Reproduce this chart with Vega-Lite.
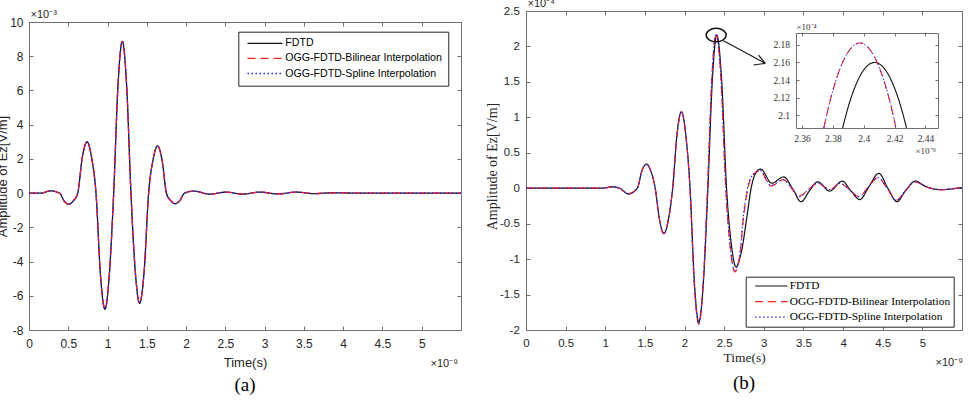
{
  "$schema": "https://vega.github.io/schema/vega-lite/v6.json",
  "autosize": {"type": "none"},
  "padding": {"left": 29, "top": 11, "right": 941, "bottom": 391},
  "background": "white",
  "bounds": "flush",
  "spacing": 65,
  "datasets": {
    "left": [
      {"t":0,"v":0},{"t":0.15,"v":0},{"t":0.27,"v":0.13},{"t":0.39,"v":0},{"t":0.447,"v":-0.46},{"t":0.505,"v":-0.65},{"t":0.563,"v":-0.46},{"t":0.62,"v":0},{"t":0.679,"v":2.1},{"t":0.738,"v":3.0},{"t":0.796,"v":2.1},{"t":0.853,"v":0},{"t":0.91,"v":-4.8},{"t":0.967,"v":-6.79},{"t":1.022,"v":-4.8},{"t":1.078,"v":0},{"t":1.133,"v":6.3},{"t":1.188,"v":8.87},{"t":1.243,"v":6.3},{"t":1.298,"v":0},{"t":1.353,"v":-4.57},{"t":1.408,"v":-6.44},{"t":1.466,"v":-4.57},{"t":1.523,"v":0},{"t":1.58,"v":1.96},{"t":1.637,"v":2.76},{"t":1.693,"v":1.96},{"t":1.75,"v":0},{"t":1.805,"v":-0.44},{"t":1.86,"v":-0.62},{"t":1.92,"v":-0.44},{"t":1.98,"v":0},{"t":2.1,"v":0.12},{"t":2.3,"v":-0.06},{"t":2.51,"v":0.06},{"t":2.72,"v":-0.06},{"t":2.94,"v":0.06},{"t":3.17,"v":-0.05},{"t":3.4,"v":0.06},{"t":3.63,"v":-0.03},{"t":3.87,"v":0.02},{"t":4.2,"v":0},{"t":5.5,"v":0}
    ],
    "right_fdtd": [
      {"t":0,"v":0},{"t":0.9,"v":0},{"t":1.0,"v":0.005},{"t":1.08,"v":0.02},{"t":1.18,"v":0},{"t":1.29,"v":-0.08},{"t":1.405,"v":0},{"t":1.46,"v":0.24},{"t":1.52,"v":0.34},{"t":1.575,"v":0.24},{"t":1.63,"v":0},{"t":1.685,"v":-0.45},{"t":1.74,"v":-0.64},{"t":1.795,"v":-0.45},{"t":1.85,"v":0},{"t":1.905,"v":0.76},{"t":1.96,"v":1.08},{"t":2.015,"v":0.76},{"t":2.07,"v":0},{"t":2.125,"v":-1.34},{"t":2.18,"v":-1.89},{"t":2.237,"v":-1.34},{"t":2.295,"v":0},{"t":2.351,"v":1.53},{"t":2.407,"v":2.16},{"t":2.468,"v":1.53},{"t":2.53,"v":0},{"t":2.59,"v":-0.79},{"t":2.65,"v":-1.11},{"t":2.72,"v":-0.88},{"t":2.787,"v":-0.4},{"t":2.84,"v":0},{"t":2.9,"v":0.22},{"t":2.96,"v":0.27},{"t":3.1,"v":0.07},{"t":3.25,"v":0.16},{"t":3.36,"v":0},{"t":3.47,"v":-0.19},{"t":3.58,"v":-0.03},{"t":3.68,"v":0.09},{"t":3.83,"v":-0.04},{"t":3.99,"v":0.1},{"t":4.1,"v":-0.04},{"t":4.21,"v":-0.16},{"t":4.33,"v":0.03},{"t":4.45,"v":0.21},{"t":4.565,"v":0},{"t":4.68,"v":-0.19},{"t":4.79,"v":-0.03},{"t":4.91,"v":0.1},{"t":5.05,"v":0.02},{"t":5.23,"v":-0.02},{"t":5.5,"v":0.01}
    ],
    "right_bil": [
      {"t":0,"v":0},{"t":0.9,"v":0},{"t":1.0,"v":0.005},{"t":1.08,"v":0.02},{"t":1.18,"v":0},{"t":1.29,"v":-0.08},{"t":1.405,"v":0},{"t":1.46,"v":0.24},{"t":1.52,"v":0.34},{"t":1.575,"v":0.24},{"t":1.63,"v":0},{"t":1.685,"v":-0.45},{"t":1.74,"v":-0.64},{"t":1.795,"v":-0.45},{"t":1.85,"v":0},{"t":1.905,"v":0.76},{"t":1.96,"v":1.08},{"t":2.015,"v":0.76},{"t":2.068,"v":0},{"t":2.123,"v":-1.36},{"t":2.178,"v":-1.92},{"t":2.234,"v":-1.36},{"t":2.29,"v":0},{"t":2.344,"v":1.55},{"t":2.3975,"v":2.18},{"t":2.459,"v":1.55},{"t":2.52,"v":0},{"t":2.577,"v":-0.84},{"t":2.635,"v":-1.18},{"t":2.7,"v":-0.93},{"t":2.745,"v":-0.4},{"t":2.8,"v":0},{"t":2.87,"v":0.2},{"t":2.95,"v":0.25},{"t":3.09,"v":0.03},{"t":3.25,"v":0.12},{"t":3.35,"v":0},{"t":3.45,"v":-0.11},{"t":3.57,"v":-0.01},{"t":3.68,"v":0.07},{"t":3.84,"v":-0.02},{"t":3.96,"v":0.07},{"t":4.08,"v":-0.02},{"t":4.2,"v":-0.12},{"t":4.32,"v":0.02},{"t":4.44,"v":0.15},{"t":4.555,"v":0},{"t":4.67,"v":-0.17},{"t":4.79,"v":-0.03},{"t":4.91,"v":0.09},{"t":5.05,"v":0.02},{"t":5.23,"v":-0.02},{"t":5.5,"v":0.01}
    ],
    "right_spl": [
      {"t":0,"v":0},{"t":0.9,"v":0},{"t":1.0,"v":0.005},{"t":1.08,"v":0.02},{"t":1.18,"v":0},{"t":1.29,"v":-0.08},{"t":1.405,"v":0},{"t":1.46,"v":0.24},{"t":1.52,"v":0.34},{"t":1.575,"v":0.24},{"t":1.63,"v":0},{"t":1.685,"v":-0.45},{"t":1.74,"v":-0.64},{"t":1.795,"v":-0.45},{"t":1.85,"v":0},{"t":1.905,"v":0.76},{"t":1.96,"v":1.08},{"t":2.015,"v":0.76},{"t":2.068,"v":0},{"t":2.123,"v":-1.36},{"t":2.178,"v":-1.91},{"t":2.234,"v":-1.36},{"t":2.29,"v":0},{"t":2.344,"v":1.55},{"t":2.3975,"v":2.18},{"t":2.459,"v":1.55},{"t":2.52,"v":0},{"t":2.577,"v":-0.83},{"t":2.635,"v":-1.16},{"t":2.7,"v":-0.9},{"t":2.745,"v":-0.36},{"t":2.8,"v":0.03},{"t":2.87,"v":0.2},{"t":2.95,"v":0.25},{"t":3.09,"v":0.04},{"t":3.25,"v":0.12},{"t":3.35,"v":0},{"t":3.45,"v":-0.12},{"t":3.57,"v":-0.01},{"t":3.68,"v":0.07},{"t":3.84,"v":-0.02},{"t":3.96,"v":0.07},{"t":4.08,"v":-0.02},{"t":4.2,"v":-0.12},{"t":4.32,"v":0.02},{"t":4.44,"v":0.15},{"t":4.555,"v":0},{"t":4.67,"v":-0.17},{"t":4.79,"v":-0.03},{"t":4.91,"v":0.09},{"t":5.05,"v":0.02},{"t":5.23,"v":-0.02},{"t":5.5,"v":0.01}
    ],
    "inset_fdtd": [
      {"t":2.3863,"v":2.0859},{"t":2.39,"v":2.1101},{"t":2.395,"v":2.135},{"t":2.4,"v":2.1514},{"t":2.407,"v":2.1598},{"t":2.414,"v":2.1514},{"t":2.419,"v":2.135},{"t":2.424,"v":2.1101},{"t":2.4277,"v":2.0859}
    ],
    "inset_bil": [
      {"t":2.3741,"v":2.0859},{"t":2.378,"v":2.1153},{"t":2.383,"v":2.145},{"t":2.388,"v":2.166},{"t":2.3925,"v":2.1774},{"t":2.3975,"v":2.1818},{"t":2.4025,"v":2.1774},{"t":2.407,"v":2.166},{"t":2.412,"v":2.145},{"t":2.417,"v":2.1153},{"t":2.4209,"v":2.0859}
    ],
    "inset_spl": [
      {"t":2.3741,"v":2.0859},{"t":2.378,"v":2.1153},{"t":2.383,"v":2.145},{"t":2.388,"v":2.166},{"t":2.3925,"v":2.1774},{"t":2.3975,"v":2.1818},{"t":2.4025,"v":2.1774},{"t":2.407,"v":2.166},{"t":2.412,"v":2.145},{"t":2.417,"v":2.1153},{"t":2.4209,"v":2.0859}
    ],
    "arrow": [
      {"t":2.491,"v":2.081,"t2":3.018,"v2":1.762},
      {"t":2.87,"v":1.738,"t2":3.018,"v2":1.762},
      {"t":2.933,"v":1.879,"t2":3.018,"v2":1.762}
    ],
    "circle": [{"t":2.399,"v":2.161}]
  },
  "hconcat": [
    {
      "width": 432, "height": 319,
      "view": {"stroke": null},
      "data": {"name": "left"},
      "title": {"text": "(a)", "orient": "bottom", "anchor": "middle", "frame": "group", "offset": 7, "font": "Liberation Serif", "fontSize": 19, "fontWeight": "normal", "color": "#000000"},
      "layer": [
        {
          "mark": {"type": "line", "interpolate": "monotone", "strokeWidth": 1.3, "clip": true},
          "encoding": {
            "x": {"field": "t", "type": "quantitative", "scale": {"domain": [0, 5.5], "nice": false, "zero": false},
              "axis": {"orient": "bottom", "domain": true, "values": [0,0.5,1,1.5,2,2.5,3,3.5,4,4.5,5], "labelExpr": "replace(format(datum.value, '~g'), '−', '-')", "labelFont": "Liberation Sans", "labelFontSize": 12, "labelBaseline": "middle", "labelPadding": 17.3, "tickSize": -4, "title": "Time(s)", "titleFont": "Liberation Sans", "titleFontSize": 13, "titleX": 216, "titleY": 32, "titleAlign": "center", "titleBaseline": "middle", "titleAngle": 0}},
            "y": {"field": "v", "type": "quantitative", "scale": {"domain": [-8, 10], "range": [319, 11], "nice": false, "zero": false},
              "axis": {"orient": "left", "domain": true, "values": [-8,-6,-4,-2,0,2,4,6,8,10], "labelExpr": "replace(format(datum.value, '~g'), '−', '-')", "labelFont": "Liberation Sans", "labelFontSize": 12, "labelPadding": 10, "tickSize": -4, "title": "Amplitude of Ez[V/m]", "titleFont": "Liberation Sans", "titleFontSize": 13, "titleAngle": 270, "titleX": -23, "titleY": 165, "titleAlign": "center", "titleBaseline": "alphabetic"}},
            "color": {"datum": "FDTD", "type": "nominal", "scale": {"domain": ["FDTD", "OGG-FDTD-Bilinear Interpolation", "OGG-FDTD-Spline Interpolation"], "range": ["#111111", "#ff1f1f", "#1f1fff"]},
              "legend": {"title": null, "orient": "none", "legendX": 209.3, "legendY": 20.7, "direction": "vertical", "symbolType": "M-5,0L5,0", "symbolSize": 49, "symbolOffset": 15.1, "symbolStrokeWidth": 1.3, "labelFont": "Liberation Sans", "labelFontSize": 10.6, "labelColor": "#000000", "labelOffset": 15, "padding": 6.3, "rowPadding": 4.1, "strokeColor": "#262626", "fillColor": "#ffffff", "cornerRadius": 0, "labelLimit": 0}},
            "strokeDash": {"datum": "FDTD", "type": "nominal", "scale": {"domain": ["FDTD", "OGG-FDTD-Bilinear Interpolation", "OGG-FDTD-Spline Interpolation"], "range": [[1,0],[8,5],[1.5,2.5]]}}
          }
        },
        {
          "mark": {"type": "line", "interpolate": "monotone", "strokeWidth": 1.3, "clip": true},
          "encoding": {
            "x": {"field": "t", "type": "quantitative", "scale": {"domain": [0, 5.5], "nice": false, "zero": false},
              "axis": {"orient": "top", "offset": -11, "domain": true, "values": [0,0.5,1,1.5,2,2.5,3,3.5,4,4.5,5], "labels": false, "tickSize": -4, "title": "×10⁻³", "titleFont": "Liberation Sans", "titleFontSize": 11, "titleX": 1, "titleY": -8, "titleAlign": "left", "titleBaseline": "middle", "titleAngle": 0}},
            "y": {"field": "v", "type": "quantitative", "scale": {"domain": [-8, 10], "range": [319, 11], "nice": false, "zero": false},
              "axis": {"orient": "right", "domain": true, "values": [-8,-6,-4,-2,0,2,4,6,8,10], "labels": false, "tickSize": -4, "title": "×10⁻⁹", "titleFont": "Liberation Sans", "titleFontSize": 11, "titleX": -31, "titleY": 352, "titleAlign": "left", "titleBaseline": "middle", "titleAngle": 0}},
            "color": {"datum": "OGG-FDTD-Bilinear Interpolation", "type": "nominal", "scale": {"domain": ["FDTD", "OGG-FDTD-Bilinear Interpolation", "OGG-FDTD-Spline Interpolation"], "range": ["#111111", "#ff1f1f", "#1f1fff"]}},
            "strokeDash": {"datum": "OGG-FDTD-Bilinear Interpolation", "type": "nominal", "scale": {"domain": ["FDTD", "OGG-FDTD-Bilinear Interpolation", "OGG-FDTD-Spline Interpolation"], "range": [[1,0],[8,5],[1.5,2.5]]}}
          }
        },
        {
          "mark": {"type": "line", "interpolate": "monotone", "strokeWidth": 1.1, "clip": true},
          "encoding": {
            "x": {"field": "t", "type": "quantitative", "scale": {"domain": [0, 5.5], "nice": false, "zero": false}, "axis": null},
            "y": {"field": "v", "type": "quantitative", "scale": {"domain": [-8, 10], "range": [319, 11], "nice": false, "zero": false}, "axis": null},
            "color": {"datum": "OGG-FDTD-Spline Interpolation", "type": "nominal", "scale": {"domain": ["FDTD", "OGG-FDTD-Bilinear Interpolation", "OGG-FDTD-Spline Interpolation"], "range": ["#111111", "#ff1f1f", "#1f1fff"]}},
            "strokeDash": {"datum": "OGG-FDTD-Spline Interpolation", "type": "nominal", "scale": {"domain": ["FDTD", "OGG-FDTD-Bilinear Interpolation", "OGG-FDTD-Spline Interpolation"], "range": [[1,0],[8,5],[1.5,2.5]]}}
          }
        }
      ],
      "resolve": {"axis": {"x": "independent", "y": "independent"}}
    },
    {
      "width": 436, "height": 319,
      "title": {"text": "(b)", "orient": "bottom", "anchor": "middle", "frame": "group", "offset": 7, "font": "Liberation Serif", "fontSize": 19, "fontWeight": "normal", "color": "#000000"},
      "layer": [
        {
          "data": {"name": "right_fdtd"},
          "mark": {"type": "line", "interpolate": "monotone", "strokeWidth": 1.2, "clip": true},
          "encoding": {
            "x": {"field": "t", "type": "quantitative", "scale": {"domain": [0, 5.5], "nice": false, "zero": false},
              "axis": {"orient": "bottom", "values": [0,0.5,1,1.5,2,2.5,3,3.5,4,4.5,5], "labelExpr": "replace(format(datum.value, '~g'), '−', '-')", "labelFont": "Liberation Sans", "labelFontSize": 11.5, "labelBaseline": "middle", "labelPadding": 17.3, "tickSize": -4, "title": "Time(s)", "titleFont": "Liberation Serif", "titleFontSize": 13.5, "titleX": 218, "titleY": 27.7, "titleAlign": "center", "titleBaseline": "middle", "titleAngle": 0}},
            "y": {"field": "v", "type": "quantitative", "scale": {"domain": [-2, 2.5], "nice": false, "zero": false},
              "axis": {"orient": "left", "values": [-2,-1.5,-1,-0.5,0,0.5,1,1.5,2,2.5], "labelExpr": "replace(format(datum.value, '~g'), '−', '-')", "labelFont": "Liberation Sans", "labelFontSize": 11.5, "labelPadding": 10.7, "tickSize": -4, "title": "Amplitude of Ez[V/m]", "titleFont": "Liberation Serif", "titleFontSize": 14, "titleAngle": 270, "titleX": -30, "titleY": 155, "titleAlign": "center", "titleBaseline": "alphabetic"}},
            "color": {"datum": "FDTD", "type": "nominal", "scale": {"domain": ["FDTD", "OGG-FDTD-Bilinear Interpolation", "OGG-FDTD-Spline Interpolation"], "range": ["#111111", "#ff1f1f", "#1f1fff"]},
              "legend": {"title": null, "orient": "none", "legendX": 219.7, "legendY": 265.7, "direction": "vertical", "symbolType": "M-5,0L5,0", "symbolSize": 41.7, "symbolOffset": 16.3, "symbolStrokeWidth": 1.2, "labelFont": "Liberation Serif", "labelFontSize": 11.4, "labelColor": "#000000", "labelOffset": 12.7, "padding": 3.6, "rowPadding": 2.6, "strokeColor": "#262626", "fillColor": "#ffffff", "cornerRadius": 0, "labelLimit": 0}},
            "strokeDash": {"datum": "FDTD", "type": "nominal", "scale": {"domain": ["FDTD", "OGG-FDTD-Bilinear Interpolation", "OGG-FDTD-Spline Interpolation"], "range": [[1,0],[8,5],[1.5,2.5]]}}
          }
        },
        {
          "data": {"name": "right_bil"},
          "mark": {"type": "line", "interpolate": "monotone", "strokeWidth": 1.2, "clip": true},
          "encoding": {
            "x": {"field": "t", "type": "quantitative", "scale": {"domain": [0, 5.5], "nice": false, "zero": false},
              "axis": {"orient": "top", "values": [0,0.5,1,1.5,2,2.5,3,3.5,4,4.5,5], "labels": false, "tickSize": -4, "title": "×10⁻⁴", "titleFont": "Liberation Sans", "titleFontSize": 11, "titleX": 1, "titleY": -8, "titleAlign": "left", "titleBaseline": "middle", "titleAngle": 0}},
            "y": {"field": "v", "type": "quantitative", "scale": {"domain": [-2, 2.5], "nice": false, "zero": false},
              "axis": {"orient": "right", "values": [-2,-1.5,-1,-0.5,0,0.5,1,1.5,2,2.5], "labels": false, "tickSize": -4, "title": "×10⁻⁹", "titleFont": "Liberation Sans", "titleFontSize": 11, "titleX": -27, "titleY": 351, "titleAlign": "left", "titleBaseline": "middle", "titleAngle": 0}},
            "color": {"datum": "OGG-FDTD-Bilinear Interpolation", "type": "nominal", "scale": {"domain": ["FDTD", "OGG-FDTD-Bilinear Interpolation", "OGG-FDTD-Spline Interpolation"], "range": ["#111111", "#ff1f1f", "#1f1fff"]}},
            "strokeDash": {"datum": "OGG-FDTD-Bilinear Interpolation", "type": "nominal", "scale": {"domain": ["FDTD", "OGG-FDTD-Bilinear Interpolation", "OGG-FDTD-Spline Interpolation"], "range": [[1,0],[8,5],[1.5,2.5]]}}
          }
        },
        {
          "data": {"name": "right_spl"},
          "mark": {"type": "line", "interpolate": "monotone", "strokeWidth": 1.1, "clip": true},
          "encoding": {
            "x": {"field": "t", "type": "quantitative", "scale": {"domain": [0, 5.5], "nice": false, "zero": false}, "axis": null},
            "y": {"field": "v", "type": "quantitative", "scale": {"domain": [-2, 2.5], "nice": false, "zero": false}, "axis": null},
            "color": {"datum": "OGG-FDTD-Spline Interpolation", "type": "nominal", "scale": {"domain": ["FDTD", "OGG-FDTD-Bilinear Interpolation", "OGG-FDTD-Spline Interpolation"], "range": ["#111111", "#ff1f1f", "#1f1fff"]}},
            "strokeDash": {"datum": "OGG-FDTD-Spline Interpolation", "type": "nominal", "scale": {"domain": ["FDTD", "OGG-FDTD-Bilinear Interpolation", "OGG-FDTD-Spline Interpolation"], "range": [[1,0],[8,5],[1.5,2.5]]}}
          }
        },
        {
          "data": {"name": "arrow"},
          "mark": {"type": "rule", "color": "#1a1a1a", "strokeWidth": 1.2},
          "encoding": {
            "x": {"field": "t", "type": "quantitative", "scale": {"domain": [0, 5.5], "nice": false, "zero": false}, "axis": null},
            "x2": {"field": "t2"},
            "y": {"field": "v", "type": "quantitative", "scale": {"domain": [-2, 2.5], "nice": false, "zero": false}, "axis": null},
            "y2": {"field": "v2"}
          }
        },
        {
          "data": {"name": "circle"},
          "mark": {"type": "point", "shape": "M-1,0A1,0.67,0,1,1,1,0A1,0.67,0,1,1,-1,0Z", "size": 400, "filled": false, "color": "#111111", "strokeWidth": 1.5, "opacity": 1},
          "encoding": {
            "x": {"field": "t", "type": "quantitative", "scale": {"domain": [0, 5.5], "nice": false, "zero": false}, "axis": null},
            "y": {"field": "v", "type": "quantitative", "scale": {"domain": [-2, 2.5], "nice": false, "zero": false}, "axis": null}
          }
        },
        {
          "data": {"name": "inset_fdtd"},
          "mark": {"type": "line", "interpolate": "monotone", "strokeWidth": 1.1},
          "encoding": {
            "x": {"field": "t", "type": "quantitative", "scale": {"domain": [2.3561, 2.4481], "range": [270, 412], "nice": false, "zero": false},
              "axis": {"orient": "bottom", "offset": -202, "domain": true, "values": [2.36,2.38,2.4,2.42,2.44], "format": ".2~f", "labelFont": "Liberation Serif", "labelFontSize": 9.5, "labelColor": "#333333", "labelBaseline": "middle", "labelPadding": 13, "tickSize": -3, "title": "×10⁻⁹", "titleFont": "Liberation Serif", "titleFontSize": 9, "titleColor": "#333333", "titleX": 389, "titleY": 22.4, "titleAlign": "left", "titleBaseline": "middle", "titleAngle": 0}},
            "y": {"field": "v", "type": "quantitative", "scale": {"domain": [2.0859, 2.193], "range": [117, 22], "nice": false, "zero": false},
              "axis": {"orient": "left", "offset": -270, "domain": true, "values": [2.1,2.12,2.14,2.16,2.18], "format": ".2~f", "labelFont": "Liberation Serif", "labelFontSize": 9.5, "labelColor": "#333333", "labelPadding": 9.4, "tickSize": -3, "title": "×10⁻⁴", "titleFont": "Liberation Serif", "titleFontSize": 9, "titleColor": "#333333", "titleX": 0, "titleY": 15.7, "titleAlign": "left", "titleBaseline": "middle", "titleAngle": 0}},
            "color": {"datum": "FDTD", "type": "nominal", "scale": {"domain": ["FDTD", "OGG-FDTD-Bilinear Interpolation", "OGG-FDTD-Spline Interpolation"], "range": ["#111111", "#ff1f1f", "#1f1fff"]}},
            "strokeDash": {"datum": "FDTD", "type": "nominal", "scale": {"domain": ["FDTD", "OGG-FDTD-Bilinear Interpolation", "OGG-FDTD-Spline Interpolation"], "range": [[1,0],[8,5],[1.5,2.5]]}}
          }
        },
        {
          "data": {"name": "inset_bil"},
          "mark": {"type": "line", "interpolate": "monotone", "strokeWidth": 1.1},
          "encoding": {
            "x": {"field": "t", "type": "quantitative", "scale": {"domain": [2.3561, 2.4481], "range": [270, 412], "nice": false, "zero": false},
              "axis": {"orient": "top", "offset": -22, "domain": true, "values": [2.36,2.38,2.4,2.42,2.44], "labels": false, "tickSize": -3, "title": null}},
            "y": {"field": "v", "type": "quantitative", "scale": {"domain": [2.0859, 2.193], "range": [117, 22], "nice": false, "zero": false},
              "axis": {"orient": "right", "offset": -24, "domain": true, "values": [2.1,2.12,2.14,2.16,2.18], "labels": false, "tickSize": -3, "title": null}},
            "color": {"datum": "OGG-FDTD-Bilinear Interpolation", "type": "nominal", "scale": {"domain": ["FDTD", "OGG-FDTD-Bilinear Interpolation", "OGG-FDTD-Spline Interpolation"], "range": ["#111111", "#ff1f1f", "#1f1fff"]}},
            "strokeDash": {"datum": "OGG-FDTD-Bilinear Interpolation", "type": "nominal", "scale": {"domain": ["FDTD", "OGG-FDTD-Bilinear Interpolation", "OGG-FDTD-Spline Interpolation"], "range": [[1,0],[8,5],[1.5,2.5]]}}
          }
        },
        {
          "data": {"name": "inset_spl"},
          "mark": {"type": "line", "interpolate": "monotone", "strokeWidth": 1.0},
          "encoding": {
            "x": {"field": "t", "type": "quantitative", "scale": {"domain": [2.3561, 2.4481], "range": [270, 412], "nice": false, "zero": false}, "axis": null},
            "y": {"field": "v", "type": "quantitative", "scale": {"domain": [2.0859, 2.193], "range": [117, 22], "nice": false, "zero": false}, "axis": null},
            "color": {"datum": "OGG-FDTD-Spline Interpolation", "type": "nominal", "scale": {"domain": ["FDTD", "OGG-FDTD-Bilinear Interpolation", "OGG-FDTD-Spline Interpolation"], "range": ["#111111", "#ff1f1f", "#1f1fff"]}},
            "strokeDash": {"datum": "OGG-FDTD-Spline Interpolation", "type": "nominal", "scale": {"domain": ["FDTD", "OGG-FDTD-Bilinear Interpolation", "OGG-FDTD-Spline Interpolation"], "range": [[1,0],[8,5],[1.5,2.5]]}}
          }
        }
      ],
      "resolve": {"scale": {"x": "independent", "y": "independent"}, "axis": {"x": "independent", "y": "independent"}}
    }
  ],
  "resolve": {"scale": {"color": "independent", "strokeDash": "independent"}},
  "config": {
    "view": {"stroke": "#707070", "strokeWidth": 1},
    "axis": {"domain": false, "domainColor": "#707070", "domainWidth": 1, "grid": false, "labelFlush": false, "labelOverlap": false, "tickColor": "#707070", "tickWidth": 1, "labelColor": "#262626", "titleColor": "#262626", "titleFontWeight": "normal"}
  }
}
